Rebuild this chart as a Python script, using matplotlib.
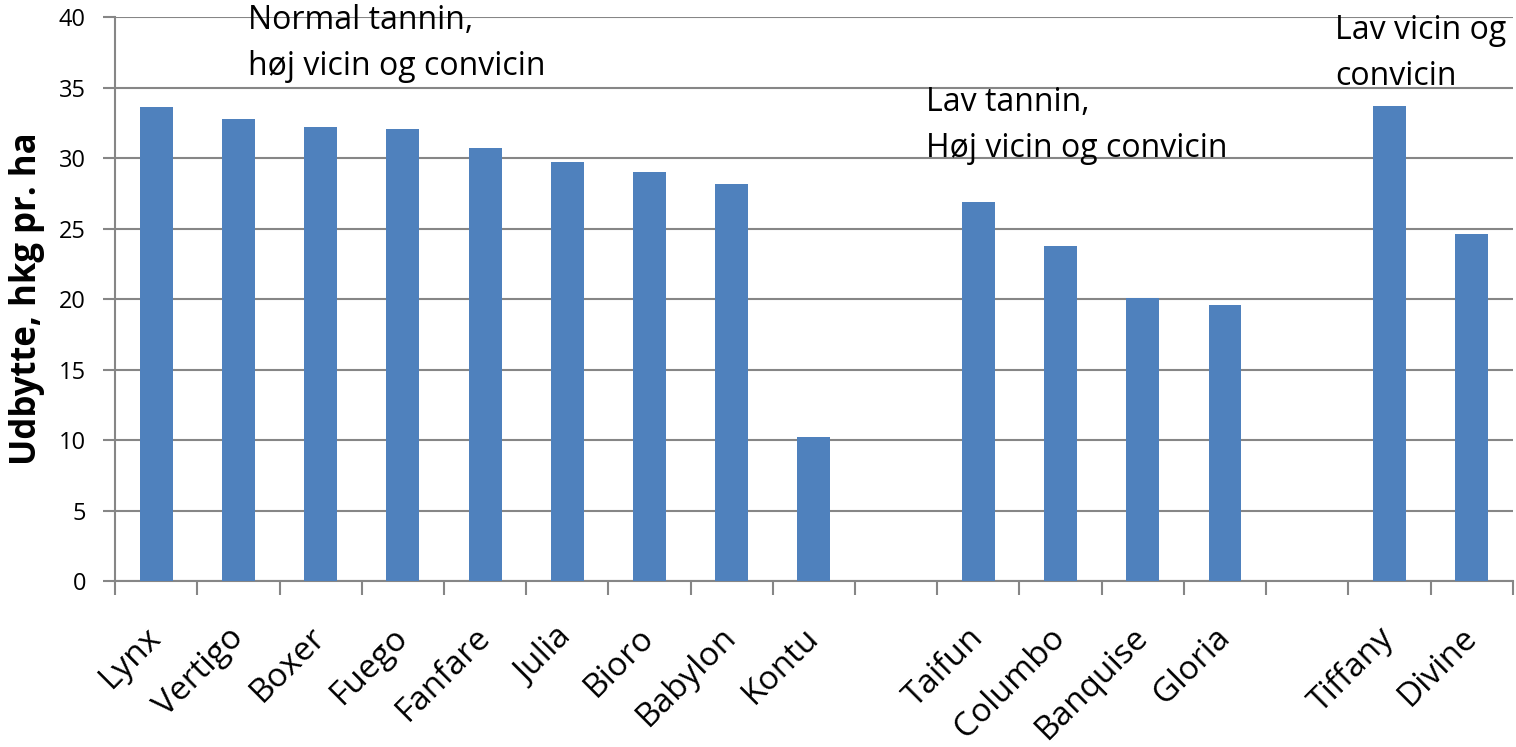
import numpy as np
import matplotlib
matplotlib.use("Agg")
import matplotlib.pyplot as plt

plt.rcParams["font.family"] = ["Open Sans", "DejaVu Sans"]

# sorter (tom streng = mellemrum mellem grupper)
sorter = ["Lynx", "Vertigo", "Boxer", "Fuego", "Fanfare", "Julia", "Bioro",
          "Babylon", "Kontu", "", "Taifun", "Columbo", "Banquise", "Gloria",
          "", "Tiffany", "Divine"]
udbytte = [33.6, 32.8, 32.2, 32.1, 30.7, 29.7, 29.0, 28.2, 10.2, np.nan,
           26.9, 23.8, 20.1, 19.6, np.nan, 33.7, 24.6]

grupper = ["Normal tannin,\nhøj vicin og convicin",
           "Lav tannin,\nHøj vicin og convicin",
           "Lav\ntannin,\nLav vicin og\nconvicin"]

grey = "#868686"

fig = plt.figure(figsize=(15.16, 7.47), dpi=100)
ax = fig.add_axes([0.0759, 0.222, 0.922, 0.755])

x = np.arange(len(sorter))
ax.bar(x, udbytte, width=0.4, color="#4f81bd", zorder=3)

ax.set_xlim(-0.5, len(sorter) - 0.5)
ax.set_ylim(0, 40)
ax.set_yticks(np.arange(0, 41, 5))
ax.yaxis.grid(True, color=grey, linewidth=1.5, zorder=0)

# kategorigrænser som tick-streger, navne i midten
ax.set_xticks(np.arange(-0.5, len(sorter), 1.0))
ax.set_xticklabels([])
ax.set_xticks(x, minor=True)
ax.set_xticklabels(sorter, minor=True, rotation=45, ha="right", va="center",
                   rotation_mode="anchor", fontsize=24)
ax.tick_params(axis="x", which="major", length=10, width=1.5, color=grey)
ax.tick_params(axis="x", which="minor", length=0, pad=37)
ax.tick_params(axis="y", length=9, width=1.5, color=grey, labelsize=17, pad=12)

for side in ["top", "right"]:
    ax.spines[side].set_visible(False)
for side in ["left", "bottom"]:
    ax.spines[side].set_color(grey)
    ax.spines[side].set_linewidth(1.5)

ax.set_ylabel("Udbytte, hkg pr. ha", fontsize=25, fontweight="bold", labelpad=10)

# va="baseline" gælder sidste linje
ax.text(1.12, 35.9, grupper[0], fontsize=23, va="baseline", linespacing=1.5)
ax.text(9.36, 30.1, grupper[1], fontsize=23, va="baseline", linespacing=1.5)
ax.text(14.34, 35.2, grupper[2], fontsize=23, va="baseline", linespacing=1.5)

fig.savefig("out.png", dpi=100)
